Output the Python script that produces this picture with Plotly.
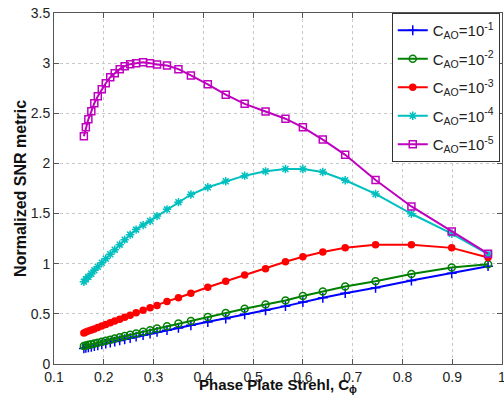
import plotly.graph_objects as go

strehl = [0.160, 0.164, 0.169, 0.175, 0.181, 0.188, 0.196, 0.204, 0.213, 0.222, 0.232, 0.242,
          0.253, 0.265, 0.279, 0.293, 0.307, 0.327, 0.350, 0.375, 0.409, 0.445, 0.483, 0.525,
          0.565, 0.600, 0.640, 0.685, 0.746, 0.818, 0.899, 0.972]

snr_ao_1e1 = [0.155, 0.160, 0.165, 0.172, 0.178, 0.186, 0.195, 0.204, 0.214, 0.224, 0.235, 0.247,
              0.259, 0.273, 0.288, 0.304, 0.320, 0.337, 0.360, 0.386, 0.419, 0.452, 0.495, 0.535,
              0.577, 0.617, 0.660, 0.706, 0.760, 0.832, 0.905, 0.975]
snr_ao_1e2 = [0.180, 0.185, 0.191, 0.198, 0.205, 0.213, 0.223, 0.232, 0.243, 0.254, 0.266, 0.278,
              0.291, 0.305, 0.321, 0.337, 0.353, 0.376, 0.403, 0.429, 0.468, 0.508, 0.551, 0.594,
              0.634, 0.678, 0.723, 0.772, 0.825, 0.898, 0.963, 0.995]
snr_ao_1e3 = [0.310, 0.318, 0.328, 0.339, 0.350, 0.364, 0.379, 0.394, 0.411, 0.428, 0.447, 0.466,
              0.487, 0.510, 0.536, 0.561, 0.584, 0.624, 0.660, 0.706, 0.765, 0.825, 0.888, 0.950,
              1.020, 1.069, 1.116, 1.160, 1.188, 1.188, 1.158, 1.062]
snr_ao_1e4 = [0.820, 0.845, 0.870, 0.900, 0.935, 0.970, 1.010, 1.050, 1.095, 1.140, 1.190, 1.240,
              1.290, 1.340, 1.385, 1.426, 1.475, 1.542, 1.614, 1.690, 1.762, 1.822, 1.878, 1.921,
              1.944, 1.945, 1.914, 1.832, 1.696, 1.498, 1.300, 1.096]
snr_ao_1e5 = [2.270, 2.360, 2.440, 2.520, 2.600, 2.670, 2.740, 2.800, 2.860, 2.900, 2.940, 2.970,
              2.990, 3.000, 3.010, 3.000, 2.987, 2.977, 2.940, 2.878, 2.789, 2.686, 2.594, 2.518,
              2.446, 2.360, 2.238, 2.086, 1.835, 1.571, 1.320, 1.100]

series_names = ["C<sub>AO</sub>=10<sup>-1</sup>", "C<sub>AO</sub>=10<sup>-2</sup>",
                "C<sub>AO</sub>=10<sup>-3</sup>", "C<sub>AO</sub>=10<sup>-4</sup>",
                "C<sub>AO</sub>=10<sup>-5</sup>"]
series_values = [snr_ao_1e1, snr_ao_1e2, snr_ao_1e3, snr_ao_1e4, snr_ao_1e5]
colors = ["#0000FF", "#008000", "#FF0000", "#00BFBF", "#BF00BF"]
symbols = ["cross-thin-open", "circle-open", "circle", "asterisk-open", "square-open"]
sizes = [7, 7, 6, 7, 7]

x_ticks = [0.1, 0.2, 0.3, 0.4, 0.5, 0.6, 0.7, 0.8, 0.9, 1.0]
x_ticktext = ["0.1", "0.2", "0.3", "0.4", "0.5", "0.6", "0.7", "0.8", "0.9", "1"]
y_ticks = [0, 0.5, 1, 1.5, 2, 2.5, 3, 3.5]
y_ticktext = ["0", "0.5", "1", "1.5", "2", "2.5", "3", "3.5"]

fig = go.Figure()
for i, (name, vals, c, s, sz) in enumerate(zip(series_names, series_values, colors, symbols, sizes)):
    fig.add_trace(go.Scatter(
        x=strehl, y=vals, mode="lines+markers", name=name, legendgroup=f"g{i}",
        line=dict(color=c, width=2),
        marker=dict(symbol=s, size=sz, color=c, line=dict(color=c, width=1.5)),
    ))

font_family = "Liberation Sans, Arial, sans-serif"
axis_common = dict(
    showline=True, linecolor="#555", linewidth=1, mirror="ticks",
    ticks="inside", ticklen=5, tickcolor="#555",
    showgrid=True, gridcolor="#c8c8c8", griddash="dot", gridwidth=1,
    zeroline=False, tickfont=dict(family=font_family, size=14, color="#222"),
    ticklabeloverflow="allow", automargin=False,
)
fig.update_xaxes(range=[0.1, 1.0], tickvals=x_ticks, ticktext=x_ticktext, **axis_common)
fig.update_yaxes(range=[0, 3.5], tickvals=y_ticks, ticktext=y_ticktext, **axis_common)

fig.add_annotation(text="<b>Phase Plate Strehl, C<sub>ϕ</sub></b>", xref="paper", yref="paper",
                   x=0.5, y=-0.06, xanchor="center", yanchor="middle", showarrow=False,
                   font=dict(family=font_family, size=15, color="#111"))
fig.add_annotation(text="<b>Normalized SNR metric</b>", xref="paper", yref="paper",
                   x=-0.075, y=0.5, xanchor="center", yanchor="middle", textangle=-90,
                   showarrow=False, font=dict(family=font_family, size=16, color="#111"))

fig.update_layout(
    width=504, height=402,
    margin=dict(l=54, r=2, t=13, b=38),
    paper_bgcolor="white", plot_bgcolor="white",
    font=dict(family=font_family, size=14, color="#222"),
    legend=dict(x=0.995, y=1.0, xanchor="right", yanchor="top",
                bgcolor="white", bordercolor="#333", borderwidth=1,
                font=dict(family=font_family, size=15, color="#222"),
                itemwidth=30, tracegroupgap=6),
    showlegend=True,
)
fig.write_html("out.html")
